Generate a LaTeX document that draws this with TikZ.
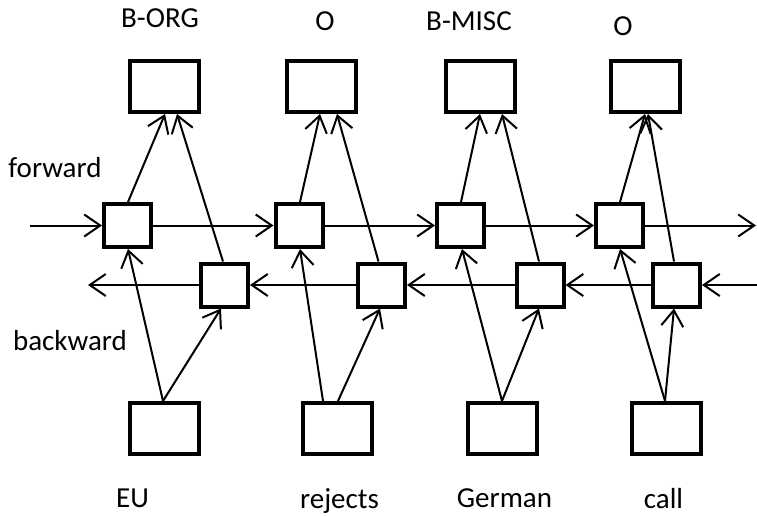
\documentclass[tikz,border=0pt]{standalone}
\usepackage{fontspec}
\setmainfont{Carlito}
\usetikzlibrary{arrows.meta,calc}
\begin{document}
\begin{tikzpicture}[x=1pt,y=-1pt,
  font=\fontsize{29}{34}\selectfont,
  obox/.style={draw,line width=4pt,minimum width=69pt,minimum height=51pt,inner sep=0pt},
  hbox/.style={draw,line width=4pt,minimum width=47pt,minimum height=43pt,inner sep=0pt},
  conn/.style={line width=2pt,-{Straight Barb[length=16pt,width=22pt]}},
  lbl/.style={inner sep=0pt}]
\useasboundingbox (0,0) rectangle (757,516);
% output boxes
\node[obox] (o1) at (164.5,86.5) {};
\node[obox] (o2) at (321,86.5) {};
\node[obox] (o3) at (480.5,86.5) {};
\node[obox] (o4) at (645.5,86.5) {};
% input boxes
\node[obox] (i1) at (164.5,428.5) {};
\node[obox] (i2) at (337.5,428.5) {};
\node[obox] (i3) at (502,428.5) {};
\node[obox] (i4) at (666,428.5) {};
% forward
\node[hbox] (f1) at (127.5,225.5) {};
\node[hbox] (f2) at (299,225.5) {};
\node[hbox] (f3) at (460.5,225.5) {};
\node[hbox] (f4) at (619.5,225.5) {};
% backward
\node[hbox] (b1) at (224.5,285) {};
\node[hbox] (b2) at (381.5,285) {};
\node[hbox] (b3) at (540,285) {};
\node[hbox] (b4) at (676.5,285) {};
% labels
\node[lbl] (t1) at (160,18) {B-ORG};
\node[lbl] (t2) at (325,21.5) {O};
\node[lbl] (t3) at (469,21) {B-MISC};
\node[lbl] (t4) at (623,26) {O};
\node[lbl] (w1) at (132.5,498.5) {EU};
\node[lbl] (w2) at (339.5,501) {rejects};
\node[lbl] (w3) at (504.5,498.5) {German};
\node[lbl] (w4) at (663.5,498.5) {call};
\node[lbl] (lf) at (55,167.5) {forward};
\node[lbl] (lb) at (70,341) {backward};
% free ends
\coordinate (fin) at (30,225.5);
\coordinate (fout) at (756,225.5);
\coordinate (bin) at (757,285);
\coordinate (bout) at (88,285);
% horizontal chains
\draw[conn] (fin) -- (f1.west);
\draw[conn] (f1.east) -- (f2.west);
\draw[conn] (f2.east) -- (f3.west);
\draw[conn] (f3.east) -- (f4.west);
\draw[conn] (f4.east) -- (fout);
\draw[conn] (bin) -- (b4.east);
\draw[conn] (b4.west) -- (b3.east);
\draw[conn] (b3.west) -- (b2.east);
\draw[conn] (b2.west) -- (b1.east);
\draw[conn] (b1.west) -- (bout);
% to outputs
\draw[conn] ([xshift=0.5pt]f1.north) -- ([xshift=0.5pt]o1.south);
\draw[conn] ([xshift=-1.5pt]b1.north) -- ([xshift=12.5pt]o1.south);
\draw[conn] ([xshift=1pt]f2.north) -- ([xshift=-1pt]o2.south);
\draw[conn] ([xshift=-3pt]b2.north) -- ([xshift=16pt]o2.south);
\draw[conn] ([xshift=0.5pt]f3.north) -- ([xshift=-0.5pt]o3.south);
\draw[conn] ([xshift=-1pt]b3.north) -- ([xshift=21.5pt]o3.south);
\draw[conn] ([xshift=0.5pt]f4.north) -- ([xshift=-0.5pt]o4.south);
\draw[conn] ([xshift=-2.5pt]b4.north) -- ([xshift=2.5pt]o4.south);
% from inputs
\draw[conn] ([xshift=-1.5pt]i1.north) -- ([xshift=0.5pt]f1.south);
\draw[conn] ([xshift=-1.5pt]i1.north) -- ([xshift=-3.5pt]b1.south);
\draw[conn] ([xshift=-14.5pt]i2.north) -- ([xshift=1pt]f2.south);
\draw[conn] ([xshift=0.5pt]i2.north) -- ([xshift=-1.5pt]b2.south);
\draw[conn] (i3.north) -- ([xshift=1.5pt]f3.south);
\draw[conn] (i3.north) -- ([xshift=-1pt]b3.south);
\draw[conn] ([xshift=-1pt]i4.north) -- ([xshift=0.5pt]f4.south);
\draw[conn] ([xshift=-1pt]i4.north) -- ([xshift=-2.5pt]b4.south);
\end{tikzpicture}
\end{document}
